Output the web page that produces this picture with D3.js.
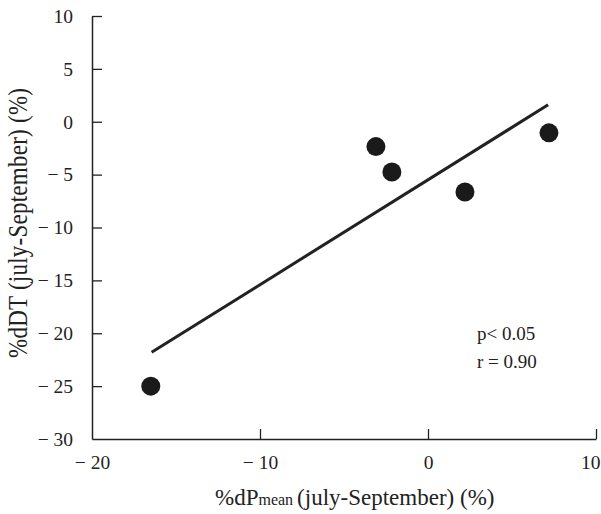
<!DOCTYPE html>
<html>
<head>
<meta charset="utf-8">
<script src="https://cdn.jsdelivr.net/npm/d3@7"></script>
<style>
  body { margin: 0; background: #fff; }
  svg text { font-family: "Liberation Serif", "DejaVu Serif", serif; fill: #222; }
</style>
</head>
<body>
<div id="chart"></div>
<script>
// values
const dPmean = [-16.5, -3.1, -2.15, 2.2, 7.2];
const dDT = [-25.0, -2.35, -4.75, -6.65, -1.05];
const fitX = [-16.45, 7.15];
const fitY = [-21.8, 1.6];
const xTicks = [-20, -10, 0, 10];
const yTicks = [10, 5, 0, -5, -10, -15, -20, -25, -30];
const stats = ["p< 0.05", "r = 0.90"];

const width = 601, height = 514;
const margin = { top: 16, right: 5, bottom: 75, left: 92 };
const ink = "#222";

const svg = d3.select("#chart").append("svg")
  .attr("width", width)
  .attr("height", height);

const x = d3.scaleLinear()
  .domain([-20, 10])
  .range([margin.left, width - margin.right]);

const y = d3.scaleLinear()
  .domain([-30, 10])
  .range([height - margin.bottom, margin.top]);

// minus sign with a gap, like the printed figure
const fmt = d => d < 0 ? "\u2212 " + Math.abs(d) : String(d);

const xAxis = svg.append("g")
  .attr("transform", `translate(0,${y(-30)})`)
  .call(d3.axisBottom(x).tickValues(xTicks).tickSize(-10).tickSizeOuter(0).tickPadding(16).tickFormat(fmt));

const yAxis = svg.append("g")
  .attr("transform", `translate(${x(-20)},0)`)
  .call(d3.axisLeft(y).tickValues(yTicks).tickSize(-10).tickSizeOuter(0).tickPadding(19).tickFormat(fmt));

[xAxis, yAxis].forEach(g => {
  g.attr("font-family", null);
  g.select(".domain").attr("stroke", ink).attr("stroke-width", 1.5);
  g.selectAll(".tick line").attr("stroke", ink).attr("stroke-width", 1.3);
  g.selectAll(".tick text")
    .attr("font-size", "19.5px")
    .attr("fill", ink);
});
// the -20 tick coincides with the y axis
xAxis.selectAll(".tick line").filter(d => d === -20).remove();
yAxis.selectAll(".tick line").filter(d => d === -30).remove();
// last x label sits against the right edge
xAxis.selectAll(".tick text").filter(d => d === 10)
  .attr("text-anchor", "end")
  .attr("x", 4);

// regression line
svg.append("line")
  .attr("x1", x(fitX[0])).attr("y1", y(fitY[0]))
  .attr("x2", x(fitX[1])).attr("y2", y(fitY[1]))
  .attr("stroke", ink)
  .attr("stroke-width", 3);

// points
svg.selectAll(".dot")
  .data(dPmean.map((v, i) => ({ x: v, y: dDT[i] })))
  .enter()
  .append("circle")
  .attr("class", "dot")
  .attr("cx", d => x(d.x))
  .attr("cy", d => y(d.y))
  .attr("r", 9.5)
  .attr("fill", "#1a1a1a");

// stats
svg.selectAll(".stat")
  .data(stats)
  .enter()
  .append("text")
  .attr("class", "stat")
  .attr("x", 477)
  .attr("y", (d, i) => 340 + i * 28)
  .attr("font-size", "19px")
  .text(d => d);

// x label
const xl = svg.append("text")
  .attr("x", 215)
  .attr("y", 505)
  .attr("font-size", "23px");
xl.append("tspan").text("%dP");
xl.append("tspan").attr("font-size", "16px").text("mean");
xl.append("tspan").attr("dx", 4).text("(july-September) (%)");

// y label
svg.append("g")
  .attr("transform", `translate(27,${223}) rotate(-90)`)
  .append("text")
  .attr("transform", "scale(1,1.2)")
  .attr("text-anchor", "middle")
  .attr("font-size", "23px")
  .attr("textLength", 270)
  .attr("lengthAdjust", "spacing")
  .text("%dDT (july-September) (%)");
</script>
</body>
</html>
